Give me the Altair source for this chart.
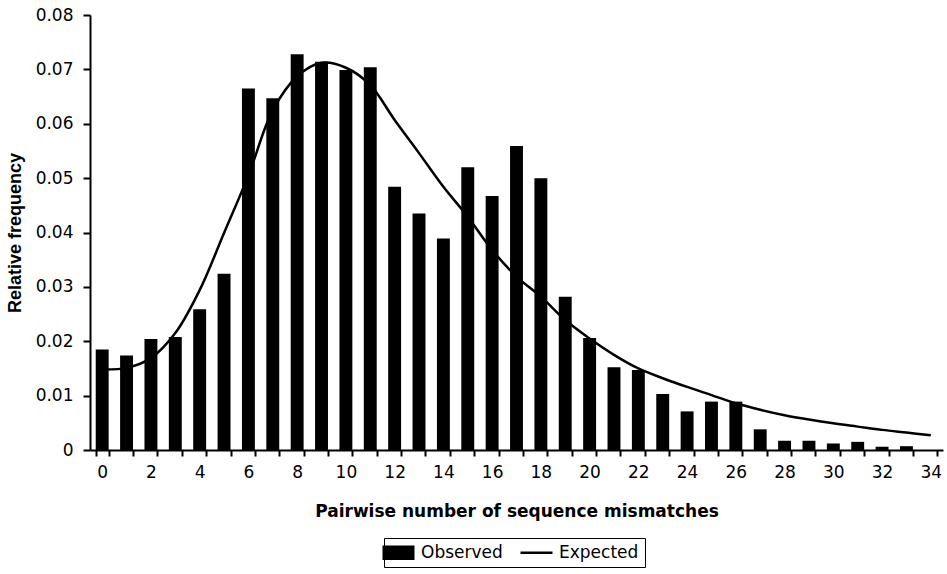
import altair as alt
import pandas as pd

mismatches = list(range(35))
observed = [0.0185, 0.0174, 0.0204, 0.0208, 0.0259, 0.0324, 0.0665, 0.0647, 0.0728, 0.0714,
            0.0699, 0.0704, 0.0484, 0.0435, 0.0389, 0.0520, 0.0467, 0.0559, 0.0500, 0.0282,
            0.0206, 0.0152, 0.0147, 0.0103, 0.0071, 0.0089, 0.0089, 0.0038, 0.0017, 0.0017,
            0.0012, 0.0015, 0.0006, 0.0007, 0.0]
expected = [0.0148, 0.0151, 0.0169, 0.0215, 0.0294, 0.0399, 0.0505, 0.0625, 0.0687, 0.0712,
            0.0703, 0.0671, 0.0607, 0.0546, 0.0484, 0.0429, 0.0368, 0.0319, 0.0282, 0.0239,
            0.0205, 0.0175, 0.0150, 0.0132, 0.0116, 0.0101, 0.0086, 0.0074, 0.0064, 0.0056,
            0.0049, 0.0043, 0.0037, 0.0032, 0.0027]
series_names = ["Observed", "Expected"]
y_ticks = [0, 0.01, 0.02, 0.03, 0.04, 0.05, 0.06, 0.07, 0.08]

obs_df = pd.DataFrame({"m": mismatches, "v": observed, "series": series_names[0]})
exp_df = pd.DataFrame({"m": mismatches, "v": expected, "series": series_names[1]})

LFONT = "DejaVu Sans"
YTFONT = "Liberation Sans"

x_enc = alt.X(
    "m:O",
    scale=alt.Scale(paddingInner=0.47, paddingOuter=0.235),
    axis=alt.Axis(
        title="Pairwise number of sequence mismatches",
        labelAngle=0,
        labelExpr="datum.value % 2 === 0 ? datum.label : ''",
        tickBand="extent",
        labelFont=LFONT, labelFontSize=17, labelColor="black", labelPadding=8,
        titleFont=LFONT, titleFontSize=17, titleFontWeight="bold", titleColor="black",
        titleX=426.5, titleY=61, titleBaseline="middle", titleAlign="center",
        domainColor="black", domainWidth=2, tickColor="black", tickWidth=2, tickSize=6,
        grid=False,
    ),
)
y_enc = alt.Y(
    "v:Q",
    scale=alt.Scale(domain=[0, 0.08], nice=False),
    axis=alt.Axis(
        title="Relative frequency",
        values=y_ticks,
        labelExpr="datum.value == 0 ? '0' : format(datum.value, '.2f')",
        labelFont=LFONT, labelFontSize=17, labelColor="black", labelPadding=10,
        titleFont=YTFONT, titleFontSize=18, titleFontWeight="bold", titleColor="black",
        titleX=-75, titleY=217.5, titleAngle=270, titleAlign="center", titleBaseline="middle",
        domainColor="black", domainWidth=2, tickColor="black", tickWidth=2, tickSize=7,
        grid=False,
    ),
)

color_scale = alt.Scale(domain=series_names, range=["black", "black"])
legend = alt.Legend(
    title=None,
    orient="none",
    legendX=294,
    legendY=523,
    direction="horizontal",
    labelFont=LFONT,
    labelFontSize=17,
    labelColor="black",
    labelOffset=14,
    columnPadding=12,
    symbolSize=1024,
    padding=6,
    strokeColor="black",
    fillColor="white",
    symbolType={"expr": "datum.label === 'Observed' ? 'M-1,-0.45H1V0.45H-1Z' : 'M-1,0H1'"},
    symbolFillColor="black",
    symbolStrokeColor="black",
    symbolStrokeWidth={"expr": "datum.label === 'Observed' ? 0 : 2.5"},
    symbolOpacity=1,
)

bars = alt.Chart(obs_df).mark_bar(color="black").encode(
    x=x_enc, y=y_enc,
    color=alt.Color("series:N", scale=color_scale, legend=legend),
)
line = alt.Chart(exp_df).mark_line(strokeWidth=2.5, interpolate="catmull-rom").encode(
    x=x_enc, y=y_enc,
    color=alt.Color("series:N", scale=color_scale, legend=legend),
)

chart = alt.layer(bars, line).properties(
    width=853,
    height=435,
    autosize=alt.AutoSizeParams(type="none"),
    padding={"left": 90, "top": 15, "right": 4, "bottom": 124},
    background="white",
).configure_view(stroke=None)

chart.save("out.html", embed_options={"renderer": "svg", "actions": False})
